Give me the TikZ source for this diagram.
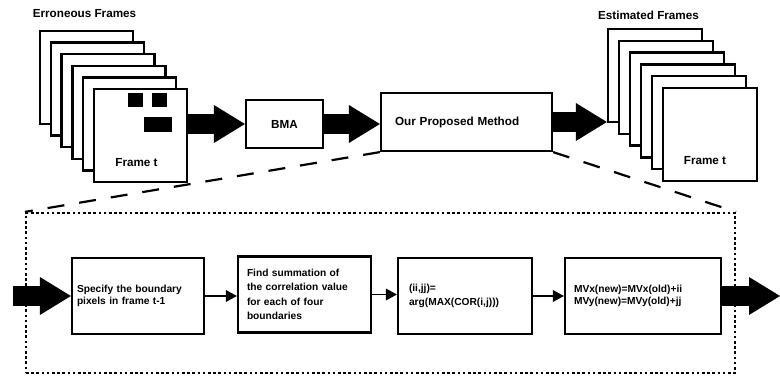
\documentclass[tikz,border=0pt]{standalone}
\usepackage{fontspec}
\setmainfont{Liberation Sans}
\usetikzlibrary{arrows.meta, positioning, calc}

\tikzset{
    framebox/.style={draw, fill=white, line width=2.3pt, minimum width=93pt, minimum height=93pt, inner sep=0pt},
    toplabel/.style={font=\bfseries\fontsize{11.7}{13}\selectfont, inner sep=0pt},
    mainbox/.style={draw, line width=2.2pt, font=\bfseries\fontsize{11.7}{13}\selectfont},
    procbox/.style={draw, line width=2.2pt, minimum height=76pt, align=left, font=\bfseries\fontsize{10.2}{11.7}\selectfont},
    bigarrow/.style={line width=20pt, -{Triangle[length=31pt, width=38pt, line width=0pt]}},
    thinarrow/.style={line width=1.8pt, -{Triangle[length=11pt, width=12pt, line width=0pt]}},
    zoomline/.style={line width=2.2pt, dash pattern=on 17pt off 15pt},
    zoomframe/.style={draw, line width=2.2pt, dash pattern=on 2.6pt off 2.6pt, minimum width=709pt, minimum height=160pt}
}

\begin{document}
\begin{tikzpicture}[x=1pt, y=-1pt]
    \useasboundingbox (0,0) rectangle (780,377);

    % Upper row
    \node[mainbox, minimum width=77pt, minimum height=48pt] (bma) at (284.5,124) {BMA};
    \node[mainbox, minimum height=58pt, text width=143pt, inner xsep=14pt, align=left] (method) at (466.5,122) {Our Proposed Method};

    % Zoomed detail of the proposed method
    \node[zoomframe] (detail) at (380.5,293) {};
    \draw[zoomline] (method.south west) -- (detail.north west);
    \draw[zoomline] (method.south east) -- (detail.north east);

    % Erroneous frames
    \node[toplabel] (errlabel) at (84.5,14) {Erroneous Frames};
    \foreach \i in {0,...,5}
        \node[framebox] (err\i) at (86.5+10.8*\i, 77.5+11.6*\i) {};
    \fill (128,93) rectangle (143,107);
    \fill (152,93) rectangle (167,107);
    \fill (144,117) rectangle (158,132);
    \fill (158,117) rectangle (172,132);
    \node[toplabel] (errt) at ($(err5.south)+(-4,-21)$) {Frame t};

    % Estimated frames
    \node[toplabel] (estlabel) at (648.5,15) {Estimated Frames};
    \foreach \i in {0,...,5}
        \node[framebox, minimum width=94pt] (est\i) at (655+11*\i, 75.5+11.8*\i) {};
    \node[toplabel] (estt) at ($(est5.south)+(-5,-22)$) {Frame t};

    % Big arrows
    \draw[bigarrow] (err5.east |- bma.west) -- (bma.west);
    \draw[bigarrow] (bma.east) -- (bma.east -| method.west);
    \draw[bigarrow] (method.east) -- (method.east -| est0.west);

    % Steps of the method
    \node[procbox, text width=122pt, inner xsep=5pt] (bound) at (138,296) {Specify the boundary\\pixels in frame t-1};
    \node[procbox, text width=115pt, inner xsep=9pt, font=\bfseries\fontsize{10.2}{14.3}\selectfont] (corr) at (304.5,294.5) {Find summation of\\the correlation value\\for each of four\\boundaries};
    \node[procbox, text width=112pt, inner xsep=11pt, font=\bfseries\fontsize{10.2}{14}\selectfont] (argmax) at (465,296) {(ii,jj)=\\arg(MAX(COR(i,j)))};
    \node[procbox, text width=138pt, inner xsep=9pt] (update) at (643,296) {MVx(new)=MVx(old)+ii\\MVy(new)=MVy(old)+jj};

    \draw[thinarrow] (bound.east) -- (bound.east -| corr.west);
    \draw[thinarrow] (corr.east) -- (corr.east -| argmax.west);
    \draw[thinarrow] (argmax.east) -- (argmax.east -| update.west);

    % Input and output of the detail
    \coordinate (in) at (13,296);
    \coordinate (out) at (780,296);
    \draw[bigarrow] (in) -- (bound.west);
    \draw[bigarrow] (update.east) -- (out);
\end{tikzpicture}
\end{document}
